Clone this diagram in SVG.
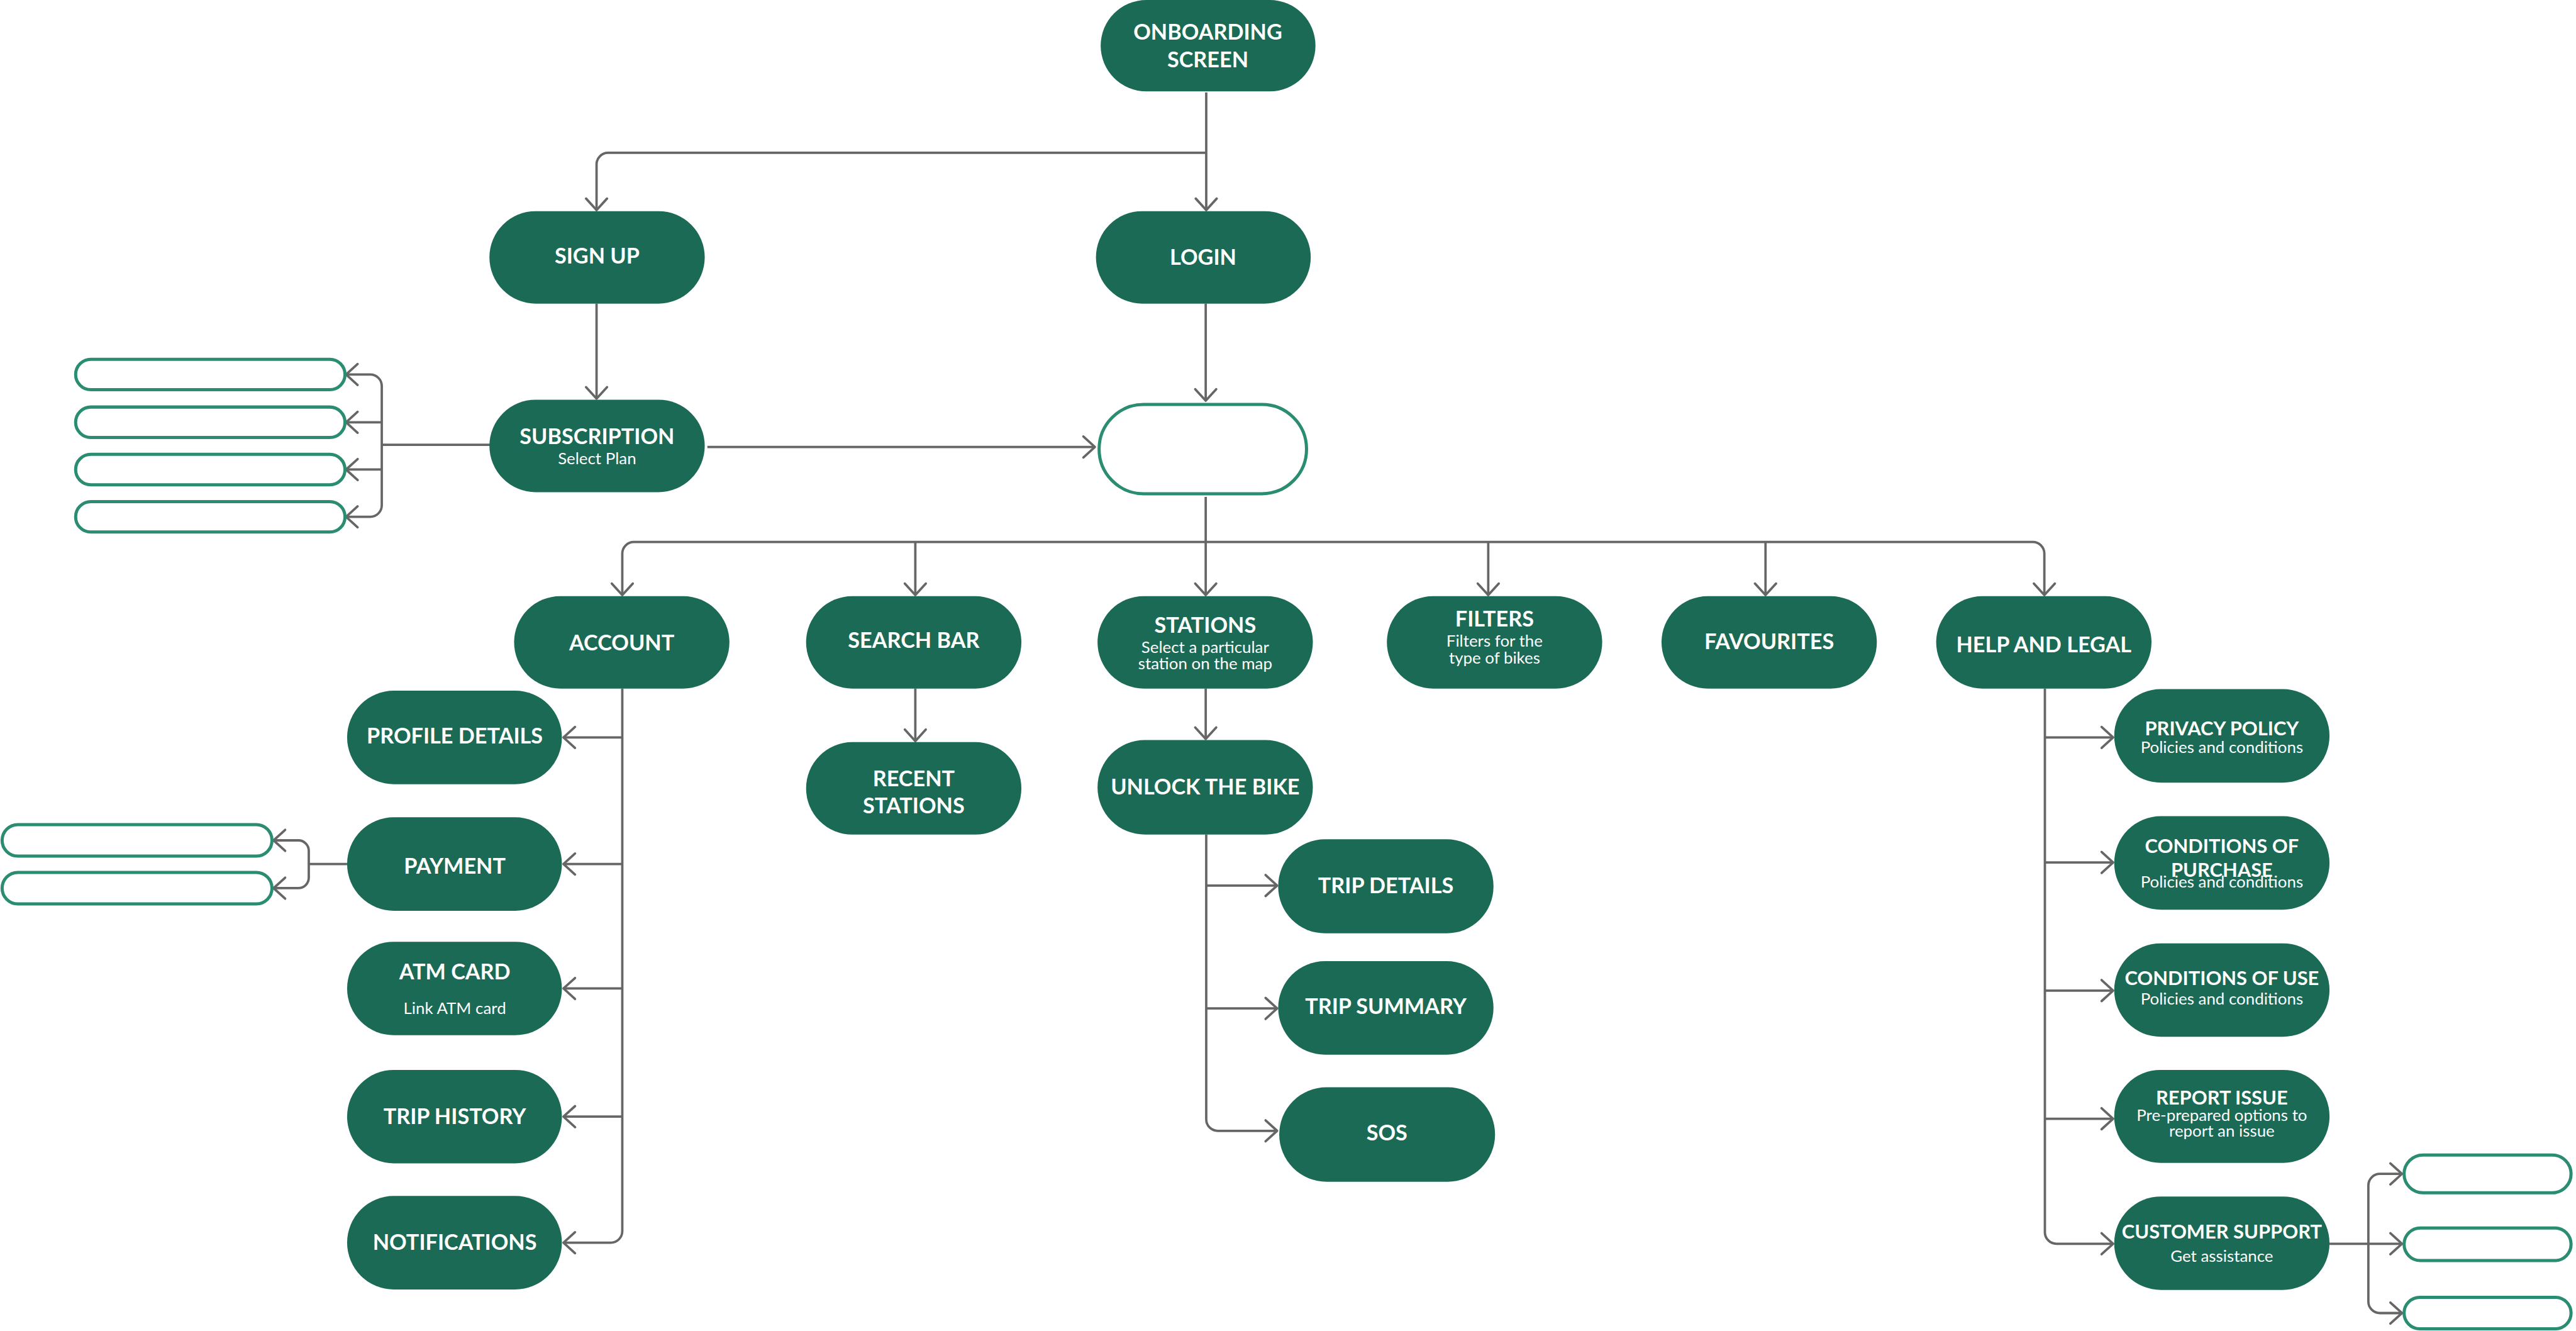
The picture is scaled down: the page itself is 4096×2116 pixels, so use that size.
<svg xmlns="http://www.w3.org/2000/svg" width="4096" height="2116" viewBox="0 0 4096 2116">
<style>
.n{fill:#1b6a55}
.o{fill:#fff;stroke:#2a8c70;stroke-width:6}
.t{font-family:Lato,'Noto Sans','Liberation Sans',sans-serif;font-weight:700;fill:#fff;text-anchor:middle;font-size:41px}
.s{font-weight:400;font-size:31px}
.h{font-size:37px}
.c{fill:none;stroke:#666;stroke-width:4.5;stroke-linejoin:round}
</style>
<defs>
<marker id="a" viewBox="-30 -25 35 50" markerWidth="35" markerHeight="50" refX="0" refY="0" orient="auto-start-reverse" markerUnits="userSpaceOnUse">
<path d="M-22,-20 L0,0 L-22,20" fill="none" stroke="#666" stroke-width="4.5" stroke-linecap="round" stroke-linejoin="round"/>
</marker>
</defs>
<rect width="4096" height="2116" fill="#fff"/>
<g transform="scale(0.835)">
<g id="connectors" class="c">
<path d="M2297,176 V400" marker-end="url(#a)"/>
<path d="M2297,291 H1158 a22,22 0 0 0 -22,22 V400" marker-end="url(#a)"/>
<path d="M1136,578 V759" marker-end="url(#a)"/>
<path d="M2296,578 V763" marker-end="url(#a)"/>
<path d="M1347,851 H2085" marker-end="url(#a)"/>
<path d="M933,847 H727"/>
<path d="M659,713 H705 a22,22 0 0 1 22,22 V962 a22,22 0 0 1 -22,22 H659" marker-start="url(#a)" marker-end="url(#a)"/>
<path d="M727,804 H659" marker-end="url(#a)"/>
<path d="M727,894 H659" marker-end="url(#a)"/>
<path d="M2296,946 V1133" marker-end="url(#a)"/>
<path d="M1185,1133 V1054 a22,22 0 0 1 22,-22 H3871 a22,22 0 0 1 22,22 V1133" marker-start="url(#a)" marker-end="url(#a)"/>
<path d="M1743,1032 V1133" marker-end="url(#a)"/>
<path d="M2834,1032 V1133" marker-end="url(#a)"/>
<path d="M3362,1032 V1133" marker-end="url(#a)"/>
<path d="M1185,1311 V2344 a22,22 0 0 1 -22,22 H1073" marker-end="url(#a)"/>
<path d="M1185,1404 H1073" marker-end="url(#a)"/>
<path d="M1185,1645 H1073" marker-end="url(#a)"/>
<path d="M1185,1882 H1073" marker-end="url(#a)"/>
<path d="M1185,2126 H1073" marker-end="url(#a)"/>
<path d="M661,1645 H588"/>
<path d="M521,1600 H568 a20,20 0 0 1 20,20 V1671 a20,20 0 0 1 -20,20 H521" marker-start="url(#a)" marker-end="url(#a)"/>
<path d="M1743,1311 V1411" marker-end="url(#a)"/>
<path d="M2296,1311 V1407" marker-end="url(#a)"/>
<path d="M2297,1589 V2131 a22,22 0 0 0 22,22 H2432" marker-end="url(#a)"/>
<path d="M2297,1686 H2432" marker-end="url(#a)"/>
<path d="M2297,1920 H2432" marker-end="url(#a)"/>
<path d="M3894,1311 V2346 a22,22 0 0 0 22,22 H4024" marker-end="url(#a)"/>
<path d="M3894,1404 H4024" marker-end="url(#a)"/>
<path d="M3894,1642 H4024" marker-end="url(#a)"/>
<path d="M3894,1886 H4024" marker-end="url(#a)"/>
<path d="M3894,2130 H4024" marker-end="url(#a)"/>
<path d="M4436,2368 H4574" marker-end="url(#a)"/>
<path d="M4574,2235 H4532 a22,22 0 0 0 -22,22 V2478 a22,22 0 0 0 22,22 H4574" marker-start="url(#a)" marker-end="url(#a)"/>
</g>
<g id="onboarding"><rect class="n" x="2096" y="0" width="409" height="174" rx="87"/><text class="t" x="2300" y="76" font-size="46">ONBOARDING</text><text class="t" x="2300" y="128" font-size="46">SCREEN</text></g>
<g id="signup"><rect class="n" x="932" y="402" width="410" height="176" rx="88"/><text class="t" x="1137" y="502">SIGN UP</text></g>
<g id="login"><rect class="n" x="2087" y="402" width="409" height="176" rx="88"/><text class="t" x="2291" y="504">LOGIN</text></g>
<g id="subscription"><rect class="n" x="932" y="761" width="410" height="176" rx="88"/><text class="t" x="1137" y="845">SUBSCRIPTION</text><text class="t s" x="1137" y="884">Select Plan</text></g>
<g id="map"><rect class="o" x="2093" y="770" width="395" height="170" rx="85" stroke-width="7"/><text class="t" x="2290" y="870">MAP</text></g>
<g id="sub-opt-1"><rect class="o" x="144" y="684" width="513" height="58" rx="29"/></g>
<g id="sub-opt-2"><rect class="o" x="144" y="775" width="513" height="58" rx="29"/></g>
<g id="sub-opt-3"><rect class="o" x="144" y="865" width="513" height="58" rx="29"/></g>
<g id="sub-opt-4"><rect class="o" x="144" y="955" width="513" height="58" rx="29"/></g>
<g id="account"><rect class="n" x="979" y="1135" width="410" height="176" rx="88"/><text class="t" x="1184" y="1238">ACCOUNT</text></g>
<g id="searchbar"><rect class="n" x="1535" y="1135" width="410" height="176" rx="88"/><text class="t" x="1740" y="1233">SEARCH BAR</text></g>
<g id="stations"><rect class="n" x="2090" y="1135" width="410" height="176" rx="88"/><text class="t" x="2295" y="1205">STATIONS</text><text class="t s" x="2295" y="1243">Select a particular</text><text class="t s" x="2295" y="1274">station on the map</text></g>
<g id="filters"><rect class="n" x="2641" y="1135" width="410" height="176" rx="88"/><text class="t" x="2846" y="1193">FILTERS</text><text class="t s" x="2846" y="1231">Filters for the</text><text class="t s" x="2846" y="1263">type of bikes</text></g>
<g id="favourites"><rect class="n" x="3164" y="1135" width="410" height="176" rx="88"/><text class="t" x="3369" y="1236">FAVOURITES</text></g>
<g id="help"><rect class="n" x="3687" y="1135" width="410" height="176" rx="88"/><text class="t" x="3892" y="1242">HELP AND LEGAL</text></g>
<g id="profile"><rect class="n" x="661" y="1315" width="409" height="178" rx="89"/><text class="t" x="866" y="1416">PROFILE DETAILS</text></g>
<g id="payment"><rect class="n" x="661" y="1556" width="409" height="178" rx="89"/><text class="t" x="866" y="1663">PAYMENT</text></g>
<g id="pay-opt-1"><rect class="o" x="4" y="1570" width="514" height="60" rx="30"/></g>
<g id="pay-opt-2"><rect class="o" x="4" y="1661" width="514" height="60" rx="30"/></g>
<g id="atm"><rect class="n" x="661" y="1793" width="409" height="178" rx="89"/><text class="t" x="866" y="1865">ATM CARD</text><text class="t s" x="866" y="1930">Link ATM card</text></g>
<g id="triphistory"><rect class="n" x="661" y="2037" width="409" height="178" rx="89"/><text class="t" x="866" y="2140">TRIP HISTORY</text></g>
<g id="notifications"><rect class="n" x="661" y="2277" width="409" height="178" rx="89"/><text class="t" x="866" y="2380">NOTIFICATIONS</text></g>
<g id="recent"><rect class="n" x="1535" y="1413" width="410" height="176" rx="88"/><text class="t" x="1740" y="1497">RECENT</text><text class="t" x="1740" y="1548">STATIONS</text></g>
<g id="unlock"><rect class="n" x="2090" y="1409" width="410" height="180" rx="90"/><text class="t" x="2295" y="1512">UNLOCK THE BIKE</text></g>
<g id="tripdetails"><rect class="n" x="2434" y="1598" width="410" height="179" rx="89"/><text class="t" x="2639" y="1700">TRIP DETAILS</text></g>
<g id="tripsummary"><rect class="n" x="2434" y="1830" width="410" height="178" rx="89"/><text class="t" x="2639" y="1931">TRIP SUMMARY</text></g>
<g id="sos"><rect class="n" x="2436" y="2070" width="411" height="180" rx="90"/><text class="t" x="2641" y="2171">SOS</text></g>
<g id="privacy"><rect class="n" x="4026" y="1312" width="410" height="178" rx="89"/><text class="t h" x="4231" y="1400">PRIVACY POLICY</text><text class="t s" x="4231" y="1433">Policies and conditions</text></g>
<g id="purchase"><rect class="n" x="4026" y="1554" width="410" height="178" rx="89"/><text class="t h" x="4231" y="1624">CONDITIONS OF</text><text class="t h" x="4231" y="1670">PURCHASE</text><text class="t s" x="4231" y="1690">Policies and conditions</text></g>
<g id="use"><rect class="n" x="4026" y="1796" width="410" height="178" rx="89"/><text class="t h" x="4231" y="1876" font-size="35">CONDITIONS OF USE</text><text class="t s" x="4231" y="1912">Policies and conditions</text></g>
<g id="report"><rect class="n" x="4026" y="2037" width="410" height="177" rx="88"/><text class="t h" x="4231" y="2103">REPORT ISSUE</text><text class="t s" x="4231" y="2134">Pre-prepared options to</text><text class="t s" x="4231" y="2164">report an issue</text></g>
<g id="support"><rect class="n" x="4026" y="2278" width="410" height="178" rx="89"/><text class="t h" x="4231" y="2358" font-size="35">CUSTOMER SUPPORT</text><text class="t s" x="4231" y="2402">Get assistance</text></g>
<g id="sup-opt-1"><rect class="o" x="4578" y="2199" width="318" height="72" rx="36"/></g>
<g id="sup-opt-2"><rect class="o" x="4578" y="2338" width="318" height="62" rx="31"/></g>
<g id="sup-opt-3"><rect class="o" x="4578" y="2470" width="318" height="60" rx="30"/></g>
</g>
</svg>
